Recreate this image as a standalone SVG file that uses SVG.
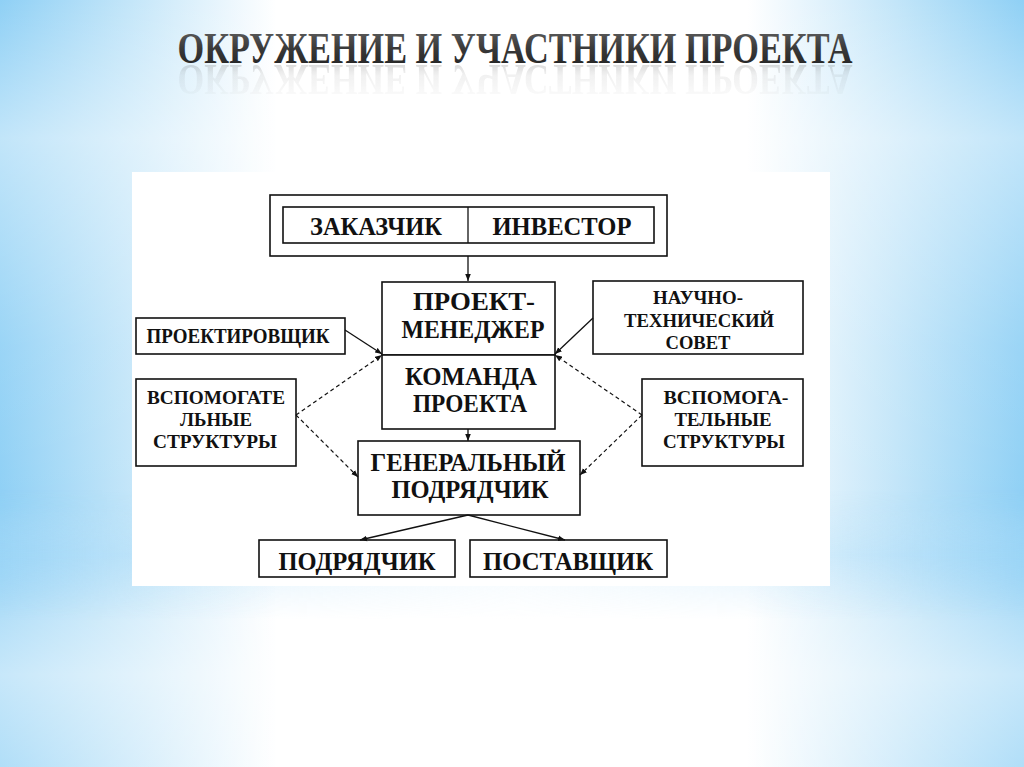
<svg xmlns="http://www.w3.org/2000/svg" width="1024" height="767" viewBox="0 0 1024 767">
<defs>
<linearGradient id="bgH" x1="0" y1="0" x2="1" y2="0">
<stop offset="0" stop-color="#8fd0f5"/>
<stop offset="0.1" stop-color="#b8e1f8"/>
<stop offset="0.27" stop-color="#ffffff"/>
<stop offset="0.73" stop-color="#ffffff"/>
<stop offset="0.9" stop-color="#b8e1f8"/>
<stop offset="1" stop-color="#8fd0f5"/>
</linearGradient>
<linearGradient id="bgV" x1="0" y1="0" x2="0" y2="1">
<stop offset="0" stop-color="#ffffff" stop-opacity="0"/>
<stop offset="0.18" stop-color="#ffffff" stop-opacity="0.45"/>
<stop offset="0.45" stop-color="#ffffff" stop-opacity="0.1"/>
<stop offset="0.66" stop-color="#ffffff" stop-opacity="0"/>
<stop offset="0.88" stop-color="#ffffff" stop-opacity="0.5"/>
<stop offset="1" stop-color="#ffffff" stop-opacity="0.3"/>
</linearGradient>
<linearGradient id="bandH" x1="0" y1="0" x2="1" y2="0">
<stop offset="0" stop-color="#9ad4f6" stop-opacity="0.9"/>
<stop offset="0.2" stop-color="#c4e6fa" stop-opacity="0.6"/>
<stop offset="0.5" stop-color="#d8effc" stop-opacity="0.3"/>
<stop offset="0.8" stop-color="#c4e6fa" stop-opacity="0.6"/>
<stop offset="1" stop-color="#9ad4f6" stop-opacity="0.9"/>
</linearGradient>
<linearGradient id="bandV" x1="0" y1="0" x2="0" y2="1">
<stop offset="0" stop-color="#fff" stop-opacity="0"/>
<stop offset="0.5" stop-color="#fff" stop-opacity="1"/>
<stop offset="1" stop-color="#fff" stop-opacity="0"/>
</linearGradient>
<mask id="bandMask" maskUnits="userSpaceOnUse" x="0" y="490" width="1024" height="130">
<rect x="0" y="490" width="1024" height="130" fill="url(#bandV)"/>
</mask>
<linearGradient id="titleG" x1="0" y1="0" x2="0" y2="1">
<stop offset="0" stop-color="#6a6a6a"/>
<stop offset="0.5" stop-color="#3a3a3a"/>
<stop offset="1" stop-color="#1e1e1e"/>
</linearGradient>
<linearGradient id="reflG" x1="0" y1="0" x2="0" y2="1">
<stop offset="0" stop-color="#555555" stop-opacity="0"/>
<stop offset="0.6" stop-color="#555555" stop-opacity="0.12"/>
<stop offset="1" stop-color="#555555" stop-opacity="0.45"/>
</linearGradient>
<marker id="arr" viewBox="0 0 10 10" refX="10" refY="5" markerWidth="7" markerHeight="7" orient="auto" markerUnits="userSpaceOnUse">
<path d="M0,1 L10,5 L0,9 z" fill="#111"/>
</marker>
<style>
.box{fill:#fff;stroke:#111;stroke-width:1.6}
.t{font-family:"Liberation Serif","Times New Roman",serif;font-weight:bold;fill:#111;text-anchor:middle}
.big{font-size:25px}
.sm{font-size:19px}
.ln{stroke:#111;stroke-width:1.3;fill:none}
.dash{stroke:#111;stroke-width:1.2;fill:none;stroke-dasharray:4 3}
</style>
</defs>
<rect x="0" y="0" width="1024" height="767" fill="url(#bgH)"/>
<rect x="0" y="0" width="1024" height="767" fill="url(#bgV)"/>
<rect x="0" y="490" width="1024" height="130" fill="url(#bandH)" mask="url(#bandMask)"/>
<g id="title">
<text x="515" y="63" class="t" style="font-size:45px;fill:url(#titleG)" textLength="675" lengthAdjust="spacingAndGlyphs">ОКРУЖЕНИЕ И УЧАСТНИКИ ПРОЕКТА</text>
<text x="515" y="63" class="t" transform="translate(0,128) scale(1,-1)" style="font-size:45px;fill:url(#reflG)" textLength="675" lengthAdjust="spacingAndGlyphs" opacity="0.7">ОКРУЖЕНИЕ И УЧАСТНИКИ ПРОЕКТА</text>
</g>
<rect x="132" y="172" width="698" height="414" fill="#ffffff"/>
<g id="client-investor">
<rect class="box" x="270" y="195" width="397" height="61"/>
<rect class="box" x="283" y="207" width="371" height="36"/>
<line class="ln" x1="468" y1="207" x2="468" y2="243"/>
<text class="t big" x="376" y="235" textLength="132" lengthAdjust="spacingAndGlyphs">ЗАКАЗЧИК</text>
<text class="t big" x="562" y="235" textLength="139" lengthAdjust="spacingAndGlyphs">ИНВЕСТОР</text>
</g>
<g id="project-manager">
<rect class="box" x="382" y="282" width="173" height="73"/>
<text class="t big" x="474" y="310" textLength="122" lengthAdjust="spacingAndGlyphs">ПРОЕКТ-</text>
<text class="t big" x="473" y="338" textLength="143" lengthAdjust="spacingAndGlyphs">МЕНЕДЖЕР</text>
</g>
<g id="project-team">
<rect class="box" x="382" y="355" width="173" height="74"/>
<text class="t big" x="471" y="385" textLength="132" lengthAdjust="spacingAndGlyphs">КОМАНДА</text>
<text class="t big" x="470" y="412" textLength="114" lengthAdjust="spacingAndGlyphs">ПРОЕКТА</text>
</g>
<g id="designer">
<rect class="box" x="136" y="318" width="209" height="36"/>
<text class="t" style="font-size:21px" x="238" y="343" textLength="183" lengthAdjust="spacingAndGlyphs">ПРОЕКТИРОВЩИК</text>
</g>
<g id="sci-tech-council">
<rect class="box" x="593" y="281" width="210" height="73"/>
<text class="t sm" x="698" y="304" textLength="90" lengthAdjust="spacingAndGlyphs">НАУЧНО-</text>
<text class="t sm" x="699" y="327" textLength="150" lengthAdjust="spacingAndGlyphs">ТЕХНИЧЕСКИЙ</text>
<text class="t sm" x="698" y="349" textLength="65" lengthAdjust="spacingAndGlyphs">СОВЕТ</text>
</g>
<g id="aux-left">
<rect class="box" x="136" y="379" width="160" height="87"/>
<text class="t sm" x="216" y="404" textLength="138" lengthAdjust="spacingAndGlyphs">ВСПОМОГАТЕ</text>
<text class="t sm" x="216" y="426" textLength="72" lengthAdjust="spacingAndGlyphs">ЛЬНЫЕ</text>
<text class="t sm" x="215" y="448" textLength="124" lengthAdjust="spacingAndGlyphs">СТРУКТУРЫ</text>
</g>
<g id="aux-right">
<rect class="box" x="642" y="379" width="161" height="87"/>
<text class="t sm" x="726" y="404" textLength="125" lengthAdjust="spacingAndGlyphs">ВСПОМОГА-</text>
<text class="t sm" x="723" y="426" textLength="97" lengthAdjust="spacingAndGlyphs">ТЕЛЬНЫЕ</text>
<text class="t sm" x="724" y="448" textLength="122" lengthAdjust="spacingAndGlyphs">СТРУКТУРЫ</text>
</g>
<g id="general-contractor">
<rect class="box" x="358" y="441" width="222" height="74"/>
<text class="t big" x="468" y="471" textLength="195" lengthAdjust="spacingAndGlyphs">ГЕНЕРАЛЬНЫЙ</text>
<text class="t big" x="470" y="498" textLength="157" lengthAdjust="spacingAndGlyphs">ПОДРЯДЧИК</text>
</g>
<g id="contractor">
<rect class="box" x="259" y="540" width="196" height="37"/>
<text class="t big" x="357" y="570" textLength="157" lengthAdjust="spacingAndGlyphs">ПОДРЯДЧИК</text>
</g>
<g id="supplier">
<rect class="box" x="470" y="540" width="197" height="37"/>
<text class="t big" x="568" y="570" textLength="170" lengthAdjust="spacingAndGlyphs">ПОСТАВЩИК</text>
</g>
<g id="connectors">
<line class="ln" x1="468" y1="256" x2="468" y2="281" marker-end="url(#arr)"/>
<line class="ln" x1="345" y1="330" x2="382" y2="354" marker-end="url(#arr)"/>
<line class="ln" x1="593" y1="318" x2="555" y2="354" marker-end="url(#arr)"/>
<line class="dash" x1="296" y1="415" x2="382" y2="355" marker-end="url(#arr)"/>
<line class="dash" x1="296" y1="415" x2="358" y2="477" marker-end="url(#arr)"/>
<line class="dash" x1="642" y1="415" x2="555" y2="355" marker-end="url(#arr)"/>
<line class="dash" x1="642" y1="415" x2="580" y2="475" marker-end="url(#arr)"/>
<line class="ln" x1="468" y1="429" x2="468" y2="441" marker-end="url(#arr)"/>
<line class="ln" x1="468" y1="515" x2="360" y2="540" marker-end="url(#arr)"/>
<line class="ln" x1="468" y1="515" x2="565" y2="540" marker-end="url(#arr)"/>
</g>
</svg>
